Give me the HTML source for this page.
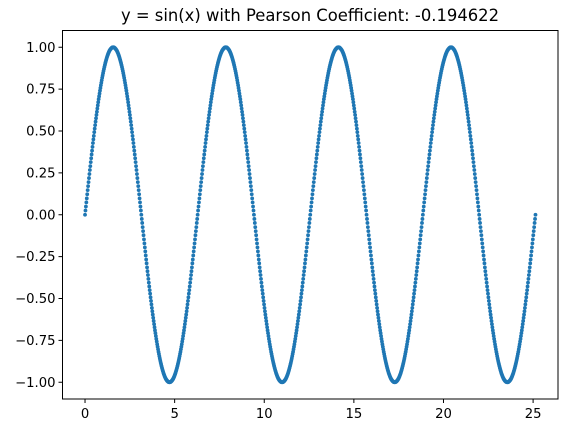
<!DOCTYPE html>
<html><head><meta charset="utf-8"><style>
html,body{margin:0;padding:0;background:#fff;}
svg{display:block;font-family:"DejaVu Sans","Liberation Sans",sans-serif;}
</style></head><body>
<svg id="chart" width="568" height="433" viewBox="0 0 568 433">
<rect x="0" y="0" width="568" height="433" fill="#fff"/>
<text x="310" y="21" text-anchor="middle" font-size="16.4" fill="#000">y = sin(x) with Pearson Coefficient: -0.194622</text>
<g id="marks"></g>
<g id="axes"></g>
<rect x="62.5" y="30.5" width="495.5" height="368.5" fill="none" stroke="#000" stroke-width="1"/>
</svg>
<script>
const xMax = 25.132741;
const xTicks = [0, 5, 10, 15, 20, 25];
const xTickLabels = ["0", "5", "10", "15", "20", "25"];
const yTicks = [1, 0.75, 0.5, 0.25, 0, -0.25, -0.5, -0.75, -1];
const yTickLabels = ["1.00", "0.75", "0.50", "0.25", "0.00", "−0.25", "−0.50", "−0.75", "−1.00"];
const yValues = [
0,.025,.049,.074,.098,.122,.147,.171,.195,.219,.243,.267,.290,.314,.337,.360,.383,.405,.428,.450,.471,.493,.514,.535,.556,.576,.596,.615,.634,.653,.672,.690,.707,.724,.741,.757,.773,.788,.803,.818,.831,.845,.858,.870,.882,.893,.904,.914,.924,.933,.942,.950,.957,.964,.970,.976,.981,.985,.989,.992,.995,.997,.999,1.000,1,1.000,.999,.997,.995,.992,.989,.985,.981,.976,.970,.964,.957,.950,.942,.933,.924,.914,.904,.893,.882,.870,.858,.845,.831,.818,.803,.788,.773,.757,.741,.724,.707,.690,.672,.653,.634,.615,.596,.576,.556,.535,.514,.493,.471,.450,.428,.405,.383,.360,.337,.314,.290,.267,.243,.219,.195,.171,.147,.122,.098,.074,.049,.025,0,-.025,-.049,-.074,-.098,-.122,-.147,-.171,-.195,-.219,-.243,-.267,-.290,-.314,-.337,-.360,-.383,-.405,-.428,-.450,-.471,-.493,-.514,-.535,-.556,-.576,-.596,-.615,-.634,-.653,-.672,-.690,-.707,-.724,-.741,-.757,-.773,-.788,-.803,-.818,-.831,-.845,-.858,-.870,-.882,-.893,-.904,-.914,-.924,-.933,-.942,-.950,-.957,-.964,-.970,-.976,-.981,-.985,-.989,-.992,-.995,-.997,-.999,-1.000,-1,-1.000,-.999,-.997,-.995,-.992,-.989,-.985,-.981,-.976,-.970,-.964,-.957,-.950,-.942,-.933,-.924,-.914,-.904,-.893,-.882,-.870,-.858,-.845,-.831,-.818,-.803,-.788,-.773,-.757,-.741,-.724,-.707,-.690,-.672,-.653,-.634,-.615,-.596,-.576,-.556,-.535,-.514,-.493,-.471,-.450,-.428,-.405,-.383,-.360,-.337,-.314,-.290,-.267,-.243,-.219,-.195,-.171,-.147,-.122,-.098,-.074,-.049,-.025,
0,.025,.049,.074,.098,.122,.147,.171,.195,.219,.243,.267,.290,.314,.337,.360,.383,.405,.428,.450,.471,.493,.514,.535,.556,.576,.596,.615,.634,.653,.672,.690,.707,.724,.741,.757,.773,.788,.803,.818,.831,.845,.858,.870,.882,.893,.904,.914,.924,.933,.942,.950,.957,.964,.970,.976,.981,.985,.989,.992,.995,.997,.999,1.000,1,1.000,.999,.997,.995,.992,.989,.985,.981,.976,.970,.964,.957,.950,.942,.933,.924,.914,.904,.893,.882,.870,.858,.845,.831,.818,.803,.788,.773,.757,.741,.724,.707,.690,.672,.653,.634,.615,.596,.576,.556,.535,.514,.493,.471,.450,.428,.405,.383,.360,.337,.314,.290,.267,.243,.219,.195,.171,.147,.122,.098,.074,.049,.025,0,-.025,-.049,-.074,-.098,-.122,-.147,-.171,-.195,-.219,-.243,-.267,-.290,-.314,-.337,-.360,-.383,-.405,-.428,-.450,-.471,-.493,-.514,-.535,-.556,-.576,-.596,-.615,-.634,-.653,-.672,-.690,-.707,-.724,-.741,-.757,-.773,-.788,-.803,-.818,-.831,-.845,-.858,-.870,-.882,-.893,-.904,-.914,-.924,-.933,-.942,-.950,-.957,-.964,-.970,-.976,-.981,-.985,-.989,-.992,-.995,-.997,-.999,-1.000,-1,-1.000,-.999,-.997,-.995,-.992,-.989,-.985,-.981,-.976,-.970,-.964,-.957,-.950,-.942,-.933,-.924,-.914,-.904,-.893,-.882,-.870,-.858,-.845,-.831,-.818,-.803,-.788,-.773,-.757,-.741,-.724,-.707,-.690,-.672,-.653,-.634,-.615,-.596,-.576,-.556,-.535,-.514,-.493,-.471,-.450,-.428,-.405,-.383,-.360,-.337,-.314,-.290,-.267,-.243,-.219,-.195,-.171,-.147,-.122,-.098,-.074,-.049,-.025,
0,.025,.049,.074,.098,.122,.147,.171,.195,.219,.243,.267,.290,.314,.337,.360,.383,.405,.428,.450,.471,.493,.514,.535,.556,.576,.596,.615,.634,.653,.672,.690,.707,.724,.741,.757,.773,.788,.803,.818,.831,.845,.858,.870,.882,.893,.904,.914,.924,.933,.942,.950,.957,.964,.970,.976,.981,.985,.989,.992,.995,.997,.999,1.000,1,1.000,.999,.997,.995,.992,.989,.985,.981,.976,.970,.964,.957,.950,.942,.933,.924,.914,.904,.893,.882,.870,.858,.845,.831,.818,.803,.788,.773,.757,.741,.724,.707,.690,.672,.653,.634,.615,.596,.576,.556,.535,.514,.493,.471,.450,.428,.405,.383,.360,.337,.314,.290,.267,.243,.219,.195,.171,.147,.122,.098,.074,.049,.025,0,-.025,-.049,-.074,-.098,-.122,-.147,-.171,-.195,-.219,-.243,-.267,-.290,-.314,-.337,-.360,-.383,-.405,-.428,-.450,-.471,-.493,-.514,-.535,-.556,-.576,-.596,-.615,-.634,-.653,-.672,-.690,-.707,-.724,-.741,-.757,-.773,-.788,-.803,-.818,-.831,-.845,-.858,-.870,-.882,-.893,-.904,-.914,-.924,-.933,-.942,-.950,-.957,-.964,-.970,-.976,-.981,-.985,-.989,-.992,-.995,-.997,-.999,-1.000,-1,-1.000,-.999,-.997,-.995,-.992,-.989,-.985,-.981,-.976,-.970,-.964,-.957,-.950,-.942,-.933,-.924,-.914,-.904,-.893,-.882,-.870,-.858,-.845,-.831,-.818,-.803,-.788,-.773,-.757,-.741,-.724,-.707,-.690,-.672,-.653,-.634,-.615,-.596,-.576,-.556,-.535,-.514,-.493,-.471,-.450,-.428,-.405,-.383,-.360,-.337,-.314,-.290,-.267,-.243,-.219,-.195,-.171,-.147,-.122,-.098,-.074,-.049,-.025,
0,.025,.049,.074,.098,.122,.147,.171,.195,.219,.243,.267,.290,.314,.337,.360,.383,.405,.428,.450,.471,.493,.514,.535,.556,.576,.596,.615,.634,.653,.672,.690,.707,.724,.741,.757,.773,.788,.803,.818,.831,.845,.858,.870,.882,.893,.904,.914,.924,.933,.942,.950,.957,.964,.970,.976,.981,.985,.989,.992,.995,.997,.999,1.000,1,1.000,.999,.997,.995,.992,.989,.985,.981,.976,.970,.964,.957,.950,.942,.933,.924,.914,.904,.893,.882,.870,.858,.845,.831,.818,.803,.788,.773,.757,.741,.724,.707,.690,.672,.653,.634,.615,.596,.576,.556,.535,.514,.493,.471,.450,.428,.405,.383,.360,.337,.314,.290,.267,.243,.219,.195,.171,.147,.122,.098,.074,.049,.025,0,-.025,-.049,-.074,-.098,-.122,-.147,-.171,-.195,-.219,-.243,-.267,-.290,-.314,-.337,-.360,-.383,-.405,-.428,-.450,-.471,-.493,-.514,-.535,-.556,-.576,-.596,-.615,-.634,-.653,-.672,-.690,-.707,-.724,-.741,-.757,-.773,-.788,-.803,-.818,-.831,-.845,-.858,-.870,-.882,-.893,-.904,-.914,-.924,-.933,-.942,-.950,-.957,-.964,-.970,-.976,-.981,-.985,-.989,-.992,-.995,-.997,-.999,-1.000,-1,-1.000,-.999,-.997,-.995,-.992,-.989,-.985,-.981,-.976,-.970,-.964,-.957,-.950,-.942,-.933,-.924,-.914,-.904,-.893,-.882,-.870,-.858,-.845,-.831,-.818,-.803,-.788,-.773,-.757,-.741,-.724,-.707,-.690,-.672,-.653,-.634,-.615,-.596,-.576,-.556,-.535,-.514,-.493,-.471,-.450,-.428,-.405,-.383,-.360,-.337,-.314,-.290,-.267,-.243,-.219,-.195,-.171,-.147,-.122,-.098,-.074,-.049,-.025,
0];

const NS = "http://www.w3.org/2000/svg";
const L = 62.5, R = 558, T = 30.5, B = 399;
const xMin = -0.05 * xMax, xHi = 1.05 * xMax;
const yMin = -1.1, yHi = 1.1;
function sx(v){ return L + (v - xMin) / (xHi - xMin) * (R - L); }
function sy(v){ return B - (v - yMin) / (yHi - yMin) * (B - T); }

const marks = document.getElementById("marks");
const n = yValues.length;
for (let i = 0; i < n; i++) {
  const xv = i * xMax / (n - 1);
  const c = document.createElementNS(NS, "circle");
  c.setAttribute("cx", sx(xv).toFixed(2));
  c.setAttribute("cy", sy(yValues[i]).toFixed(2));
  c.setAttribute("r", "1.9");
  c.setAttribute("fill", "#1f77b4");
  
  
  marks.appendChild(c);
}

const axes = document.getElementById("axes");
xTicks.forEach((t, i) => {
  const x = sx(t);
  const ln = document.createElementNS(NS, "line");
  ln.setAttribute("x1", x); ln.setAttribute("x2", x);
  ln.setAttribute("y1", B); ln.setAttribute("y2", B + 4);
  ln.setAttribute("stroke", "#000");
  
  
  axes.appendChild(ln);
  const tx = document.createElementNS(NS, "text");
  tx.setAttribute("x", x); tx.setAttribute("y", B + 19);
  tx.setAttribute("text-anchor", "middle");
  tx.setAttribute("font-size", "13.2");
  tx.textContent = xTickLabels[i];
  
  
  axes.appendChild(tx);
});
yTicks.forEach((t, i) => {
  const y = sy(t);
  const ln = document.createElementNS(NS, "line");
  ln.setAttribute("x1", L - 4); ln.setAttribute("x2", L);
  ln.setAttribute("y1", y); ln.setAttribute("y2", y);
  ln.setAttribute("stroke", "#000");
  
  
  axes.appendChild(ln);
  const tx = document.createElementNS(NS, "text");
  tx.setAttribute("x", L - 7); tx.setAttribute("y", y + 4.6);
  tx.setAttribute("text-anchor", "end");
  tx.setAttribute("font-size", "13.2");
  tx.textContent = yTickLabels[i];
  
  
  axes.appendChild(tx);
});
</script>
</body></html>
